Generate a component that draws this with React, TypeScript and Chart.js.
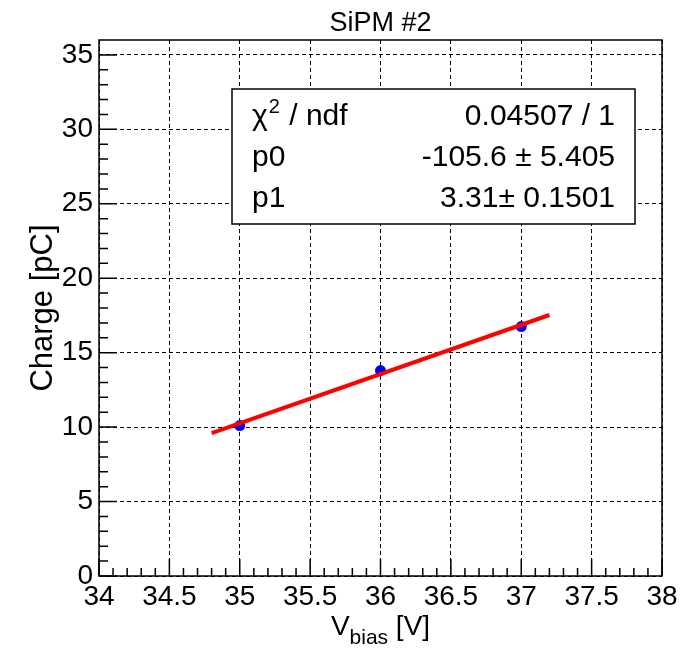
import React, { useEffect, useRef } from "react";
import { Chart, registerables } from "chart.js";

Chart.register(...registerables);

// ---- data ----
const vBias = [35, 36, 37];
const charge = [10.1, 13.8, 16.75];
const fitX = [34.8, 37.2];
const fitY = [9.59, 17.53];
const xTickValues = [34, 34.5, 35, 35.5, 36, 36.5, 37, 37.5, 38];
const yTickValues = [0, 5, 10, 15, 20, 25, 30, 35];
const plotTitle = "SiPM #2";
const yTitle = "Charge [pC]";
const statsNames = ["p0", "p1"];
const statsValues = ["0.04507 / 1", "-105.6 \u00b1 5.405", "3.31\u00b1 0.1501"];

const FONT = "'Liberation Sans', Arial, Helvetica, sans-serif";

const rootPlugin = {
  id: "rootStyle",
  afterDatasetsDraw(chart: any) {
    const { ctx, chartArea: a } = chart;
    // stats box
    const bx = a.left + 133;
    const by = a.top + 49;
    const bw = 403;
    const bh = 135;
    ctx.save();
    ctx.fillStyle = "#ffffff";
    ctx.fillRect(bx, by, bw, bh);
    ctx.strokeStyle = "#000";
    ctx.lineWidth = 1.5;
    ctx.strokeRect(bx, by, bw, bh);
    ctx.fillStyle = "#000";
    ctx.textBaseline = "alphabetic";
    const lx = bx + 20;
    const rx = bx + bw - 20;
    const rows = [by + 36, by + 77, by + 118];
    ctx.font = `30px ${FONT}`;
    ctx.textAlign = "left";
    ctx.fillText("\u03c7", lx, rows[0]);
    const wChi = ctx.measureText("\u03c7").width;
    ctx.font = `20px ${FONT}`;
    ctx.fillText("2", lx + wChi + 1, rows[0] - 12);
    const w2 = ctx.measureText("2").width;
    ctx.font = `30px ${FONT}`;
    ctx.fillText(" / ndf", lx + wChi + w2 + 2, rows[0]);
    ctx.fillText(statsNames[0], lx, rows[1]);
    ctx.fillText(statsNames[1], lx, rows[2]);
    ctx.textAlign = "right";
    statsValues.forEach((v, i) => ctx.fillText(v, rx, rows[i]));
    ctx.restore();
  },
  afterDraw(chart: any) {
    const { ctx, chartArea: a, scales } = chart;
    const xs = scales.x;
    const ys = scales.y;
    ctx.save();
    ctx.strokeStyle = "#000";
    ctx.lineWidth = 1.5;
    ctx.beginPath();
    for (let i = 0; i < xTickValues.length; i++) {
      const v = xTickValues[i];
      const px = xs.getPixelForValue(v);
      ctx.moveTo(px, a.bottom);
      ctx.lineTo(px, a.bottom - 17);
      if (i < xTickValues.length - 1) {
        const step = (xTickValues[i + 1] - v) / 5;
        for (let k = 1; k < 5; k++) {
          const mx = xs.getPixelForValue(v + k * step);
          ctx.moveTo(mx, a.bottom);
          ctx.lineTo(mx, a.bottom - 8);
        }
      }
    }
    for (let i = 0; i < yTickValues.length; i++) {
      const v = yTickValues[i];
      const py = ys.getPixelForValue(v);
      ctx.moveTo(a.left, py);
      ctx.lineTo(a.left + 18, py);
      if (i < yTickValues.length - 1) {
        const step = (yTickValues[i + 1] - v) / 5;
        for (let k = 1; k < 5; k++) {
          const my = ys.getPixelForValue(v + k * step);
          ctx.moveTo(a.left, my);
          ctx.lineTo(a.left + 9, my);
        }
      }
    }
    ctx.stroke();
    ctx.lineWidth = 1.5;
    ctx.strokeRect(a.left, a.top, a.right - a.left, a.bottom - a.top);
    ctx.fillStyle = "#000";
    ctx.font = `27px ${FONT}`;
    ctx.textAlign = "center";
    ctx.textBaseline = "alphabetic";
    ctx.fillText(plotTitle, (a.left + a.right) / 2, 31);
    ctx.textAlign = "left";
    ctx.font = `28px ${FONT}`;
    const wV = ctx.measureText("V").width;
    const wRest = ctx.measureText(" [V]").width;
    ctx.font = `21px ${FONT}`;
    const wSub = ctx.measureText("bias").width;
    const total = wV + wSub + wRest;
    const x0 = (a.left + a.right) / 2 - total / 2;
    const base = 635;
    ctx.font = `28px ${FONT}`;
    ctx.fillText("V", x0, base);
    ctx.font = `21px ${FONT}`;
    ctx.fillText("bias", x0 + wV, base + 9);
    ctx.font = `28px ${FONT}`;
    ctx.fillText(" [V]", x0 + wV + wSub, base);
    ctx.translate(52, (a.top + a.bottom) / 2);
    ctx.rotate(-Math.PI / 2);
    ctx.textAlign = "center";
    ctx.font = `31px ${FONT}`;
    ctx.fillText(yTitle, 0, 0);
    ctx.restore();
  },
};

export default function App() {
  const ref = useRef<HTMLCanvasElement | null>(null);

  useEffect(() => {
    if (!ref.current) return;
    const chart = new Chart(ref.current, {
      type: "scatter",
      data: {
        datasets: [
          {
            type: "line",
            data: fitX.map((x, i) => ({ x, y: fitY[i] })),
            borderColor: "#ff0000",
            borderWidth: 4,
            pointRadius: 0,
            fill: false,
          } as any,
          {
            data: vBias.map((x, i) => ({ x, y: charge[i] })),
            backgroundColor: "#0000ff",
            borderColor: "#0000ff",
            pointRadius: 5.5,
            pointBorderWidth: 0,
          },
        ],
      },
      options: {
        responsive: false,
        animation: false,
        layout: { padding: { top: 40, right: 35, left: 0, bottom: 0 } },
        plugins: {
          legend: { display: false },
          tooltip: { enabled: false },
          title: { display: false },
        },
        scales: {
          x: {
            type: "linear",
            min: 34,
            max: 38,
            afterBuildTicks: (s: any) => {
              s.ticks = xTickValues.map((v) => ({ value: v }));
            },
            afterFit: (s: any) => {
              s.height = 72;
            },
            grid: { color: "#000", lineWidth: 1, drawTicks: false },
            border: { display: false, dash: [4, 3] },
            ticks: {
              color: "#000",
              font: { family: FONT, size: 28 },
              padding: 4,
              maxRotation: 0,
              autoSkip: false,
              callback: (v: any) => String(v),
            },
          },
          y: {
            type: "linear",
            min: 0,
            max: 36,
            afterBuildTicks: (s: any) => {
              s.ticks = yTickValues.map((v) => ({ value: v }));
            },
            afterFit: (s: any) => {
              s.width = 99;
            },
            grid: { color: "#000", lineWidth: 1, drawTicks: false },
            border: { display: false, dash: [4, 3] },
            ticks: {
              color: "#000",
              font: { family: FONT, size: 28 },
              padding: 6,
              autoSkip: false,
              callback: (v: any) => String(v),
            },
          },
        },
      },
      plugins: [rootPlugin],
    });
    return () => chart.destroy();
  }, []);

  return (
    <canvas
      ref={ref}
      width={697}
      height={648}
      style={{ position: "fixed", left: 0, top: 0, width: 697, height: 648, background: "#fff" }}
    />
  );
}
